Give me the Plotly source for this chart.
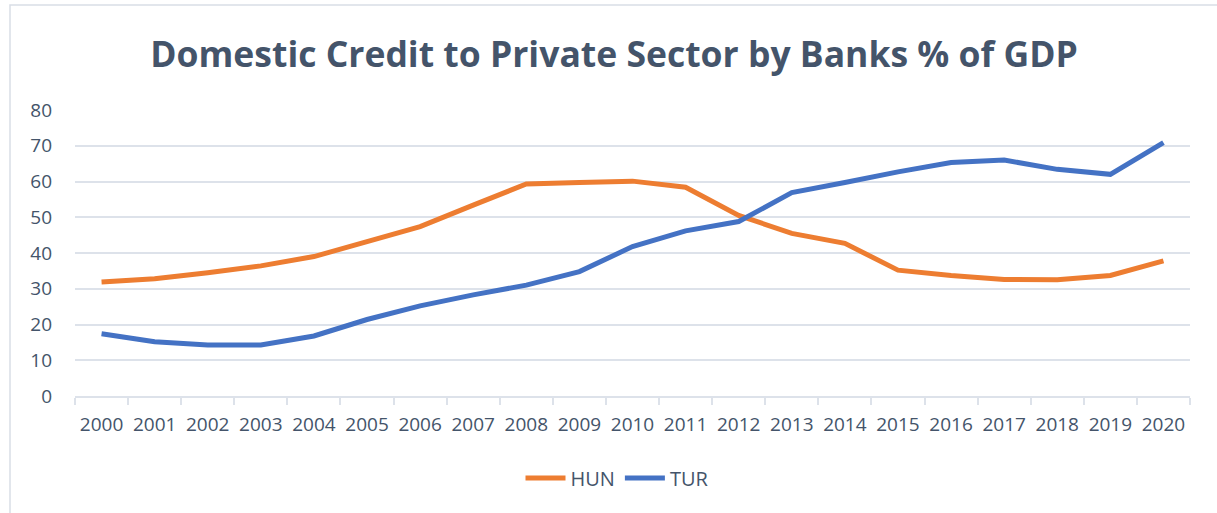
import plotly.graph_objects as go

years = [str(y) for y in range(2000, 2021)]
hun = [31.9, 32.8, 34.5, 36.4, 39.0, 43.2, 47.4, 53.4, 59.3, 59.7, 60.1, 58.4, 50.5, 45.5,
       42.7, 35.2, 33.7, 32.6, 32.5, 33.7, 37.8]
tur = [17.4, 15.2, 14.3, 14.3, 16.8, 21.4, 25.2, 28.3, 31.0, 34.8, 41.8, 46.2, 48.8, 56.9,
       59.7, 62.7, 65.3, 66.0, 63.4, 62.0, 70.9]
y_ticks = [0, 10, 20, 30, 40, 50, 60, 70, 80]

TXT = "#44546A"
GRID = "#DDE2EA"
FONT = "Open Sans"

W, H = 1217, 513
L, R, T, B = 75, 1190, 110, 396
pw, ph = R - L, B - T


def px(x):
    return (x - L) / pw


def py(y):
    return (B - y) / ph


fig = go.Figure()
fig.add_trace(go.Scatter(x=years, y=hun, name="HUN", mode="lines",
                         line=dict(color="#ED7D31", width=5)))
fig.add_trace(go.Scatter(x=years, y=tur, name="TUR", mode="lines",
                         line=dict(color="#4472C4", width=5)))

fig.update_layout(
    width=W, height=H,
    margin=dict(l=L, r=W - R, t=T, b=H - B, autoexpand=False),
    paper_bgcolor="white", plot_bgcolor="white",
    font=dict(family=FONT, color=TXT, size=19),
    title=dict(text="<b>Domestic Credit to Private Sector by Banks % of GDP</b>",
               x=px(614), xref="paper", xanchor="center",
               y=1 - 55 / H, yanchor="middle", automargin=False,
               font=dict(family=FONT, size=35.5, color=TXT)),
    showlegend=True,
    legend=dict(orientation="h", x=px(617), xanchor="center", y=py(478), yanchor="middle",
                font=dict(size=20, color=TXT), itemwidth=40, tracegroupgap=0),
    xaxis=dict(type="category", range=[-0.5, 20.5], showgrid=False, automargin=False,
               showline=True, linecolor=GRID, linewidth=2, tickangle=0,
               ticks="outside", tickson="boundaries", ticklen=7, tickcolor=GRID, tickwidth=2,
               ticklabelstandoff=10,
               tickfont=dict(size=19, color=TXT), fixedrange=True),
    yaxis=dict(range=[0, 80], tickvals=y_ticks, showgrid=True, gridcolor=GRID, gridwidth=2,
               zeroline=False, showline=False, ticks="", ticklabelstandoff=22, automargin=False,
               tickfont=dict(size=19, color=TXT), fixedrange=True),
    shapes=[dict(type="rect", xref="paper", yref="paper",
                 x0=px(10), x1=px(1240), y0=py(540), y1=py(5),
                 line=dict(color="#D9DEE6", width=1.5), fillcolor="rgba(0,0,0,0)", layer="below")],
)

fig.write_html("out.html", config={"displayModeBar": False},
               post_script="document.body.style.margin='0';document.body.style.padding='0';")
